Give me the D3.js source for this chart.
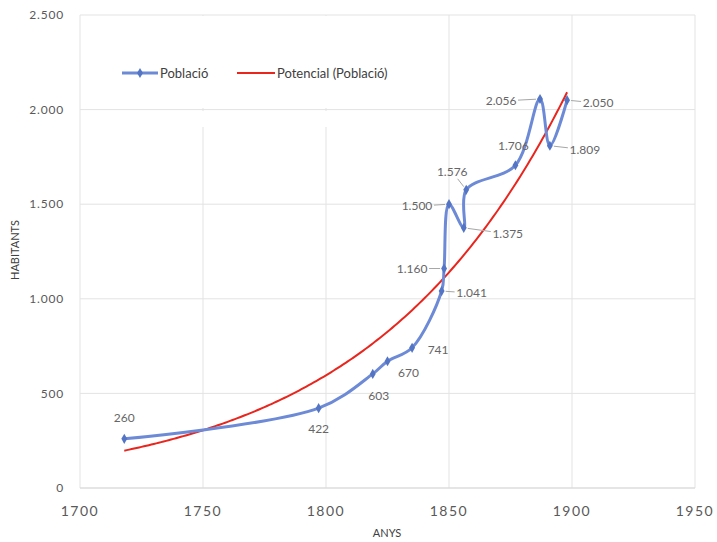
<!DOCTYPE html>
<html>
<head>
<meta charset="utf-8">
<script src="https://cdn.jsdelivr.net/npm/d3@7"></script>
<style>
  body { margin: 0; background: #fff; }
  text { font-family: Lato, "Open Sans", sans-serif; }
</style>
</head>
<body>
<div id="chart"></div>
<script>

// data
const anys = [1718, 1797, 1819, 1825, 1835, 1847, 1848, 1850, 1856, 1857, 1877, 1887, 1891, 1898];
const poblacio = [260, 422, 603, 670, 741, 1041, 1160, 1500, 1375, 1576, 1706, 2056, 1809, 2050];
const xTicks = [1700, 1750, 1800, 1850, 1900, 1950];
const yTicks = [0, 500, 1000, 1500, 2000, 2500];

// label placement relative to each point (layout only)
const labelOffsets = [
    [0, -21], [0, 21], [6, 22], [21, 12], [26, 2], [30, 2], [-32, 0],
    [-32, 2], [44, 6], [-14, -18], [-2, -19], [-39, 2], [35, 4], [31, 3]
];
const hasLeader = [false, false, false, false, false, true, true, true, true, true, false, true, true, true];

function createSVG(containerId, width, height) {
    try {
        let svg = d3.select(containerId)
            .append('svg')
            .attr('width', width)
            .attr('height', height);
        return svg;
    } catch (error) {
        console.log('Function: createSVG. Error: ' + error);
        return null;
    }
}

function powerFit(xs, ys) {
    // least squares on ln-ln, same as the spreadsheet "Potencial" trendline
    let lx = xs.map(Math.log), ly = ys.map(Math.log);
    let mx = d3.mean(lx), my = d3.mean(ly);
    let sxy = d3.sum(lx, (v, i) => (v - mx) * (ly[i] - my));
    let sxx = d3.sum(lx, v => (v - mx) * (v - mx));
    let b = sxy / sxx;
    let a = Math.exp(my - b * mx);
    return x => a * Math.pow(x, b);
}

// leader from near the point to the edge of the label box
function leader(px, py, o) {
    let hw = 17, hh = 7;
    let len = Math.hypot(o[0], o[1]);
    let ux = -o[0] / len, uy = -o[1] / len;
    let t = Math.min(Math.abs(ux) > 0 ? hw / Math.abs(ux) : 1e9, Math.abs(uy) > 0 ? hh / Math.abs(uy) : 1e9);
    return {
        x1: px - ux * 4, y1: py - uy * 4,
        x2: px + o[0] + ux * t, y2: py + o[1] + uy * t
    };
}

const svg = createSVG('#chart', 717, 542);
const fmt = v => d3.format(',')(v).replace(/,/g, '.');

const x = d3.scaleLinear().domain([1700, 1950]).range([80, 695]);
const y = d3.scaleLinear().domain([0, 2500]).range([488, 15]);

// gridlines
svg.append('g')
    .selectAll('line')
    .data(yTicks).enter()
    .append('line')
    .attr('x1', x(1700)).attr('x2', x(1950))
    .attr('y1', d => y(d)).attr('y2', d => y(d))
    .attr('stroke', '#e3e3e3').attr('stroke-width', 1);

svg.append('g')
    .selectAll('line')
    .data(xTicks).enter()
    .append('line')
    .attr('x1', d => x(d)).attr('x2', d => x(d))
    .attr('y1', y(0)).attr('y2', y(2500))
    .attr('stroke', '#e3e3e3').attr('stroke-width', 1);

// legend box hides the grid behind it
svg.append('rect')
    .attr('x', x(1700) + 1).attr('y', y(2500) + 1)
    .attr('width', 360).attr('height', 92)
    .attr('fill', '#fff');
svg.append('rect')
    .attr('x', x(1700) + 1).attr('y', y(2500) + 96)
    .attr('width', 360).attr('height', 16)
    .attr('fill', '#fff');

// axis line
svg.append('line')
    .attr('x1', x(1700)).attr('x2', x(1950))
    .attr('y1', y(0)).attr('y2', y(0))
    .attr('stroke', '#d9d9d9');

// tick labels
svg.append('g')
    .selectAll('text')
    .data(yTicks).enter()
    .append('text')
    .attr('x', 64)
    .attr('y', d => y(d))
    .attr('dy', '0.35em')
    .attr('text-anchor', 'end')
    .attr('font-size', 12)
    .attr('letter-spacing', 0.8)
    .attr('fill', '#595959')
    .text(d => fmt(d));

svg.append('g')
    .selectAll('text')
    .data(xTicks).enter()
    .append('text')
    .attr('x', d => x(d))
    .attr('y', 511)
    .attr('dy', '0.35em')
    .attr('text-anchor', 'middle')
    .attr('font-size', 14)
    .attr('letter-spacing', 1.5)
    .attr('fill', '#595959')
    .text(d => d);

// axis titles
svg.append('text')
    .attr('x', 387).attr('y', 533)
    .attr('dy', '0.35em')
    .attr('text-anchor', 'middle')
    .attr('font-size', 11)
    .attr('fill', '#404040')
    .text('ANYS');

svg.append('text')
    .attr('transform', 'translate(15,250) rotate(-90)')
    .attr('dy', '0.35em')
    .attr('text-anchor', 'middle')
    .attr('font-size', 11)
    .attr('fill', '#404040')
    .text('HABITANTS');

// trendline
const trend = powerFit(anys, poblacio);
const trendPts = d3.range(anys[0], anys[anys.length - 1] + 0.01, 1).map(t => [t, trend(t)]);
svg.append('path')
    .attr('d', d3.line().x(d => x(d[0])).y(d => y(d[1]))(trendPts))
    .attr('fill', 'none')
    .attr('stroke', '#e8261e')
    .attr('stroke-width', 2);

// population series
const pts = anys.map((a, i) => [a, poblacio[i]]);
svg.append('path')
    .attr('d', d3.line().curve(d3.curveCatmullRom.alpha(0.5)).x(d => x(d[0])).y(d => y(d[1]))(pts))
    .attr('fill', 'none')
    .attr('stroke', '#6d8ad6')
    .attr('stroke-width', 3);

svg.append('g')
    .selectAll('path')
    .data(pts).enter()
    .append('path')
    .attr('transform', d => 'translate(' + x(d[0]) + ',' + y(d[1]) + ')')
    .attr('d', d3.symbol().type(d3.symbolDiamond).size(30))
    .attr('fill', '#5474c4');

// leader lines
const leaders = pts.map((d, i) => leader(x(d[0]), y(d[1]), labelOffsets[i])).filter((d, i) => hasLeader[i]);
svg.append('g')
    .selectAll('line')
    .data(leaders).enter()
    .append('line')
    .attr('x1', d => d.x1).attr('y1', d => d.y1)
    .attr('x2', d => d.x2).attr('y2', d => d.y2)
    .attr('stroke', '#a6a6a6')
    .attr('stroke-width', 1);

// data labels
svg.append('g')
    .selectAll('text')
    .data(pts).enter()
    .append('text')
    .attr('x', (d, i) => x(d[0]) + labelOffsets[i][0])
    .attr('y', (d, i) => y(d[1]) + labelOffsets[i][1])
    .attr('dy', '0.35em')
    .attr('text-anchor', 'middle')
    .attr('font-size', 12)
    .attr('fill', '#666')
    .text(d => fmt(d[1]));

// legend
const legend = svg.append('g').attr('transform', 'translate(0,73)');
legend.append('line')
    .attr('x1', 122).attr('x2', 158)
    .attr('stroke', '#6d8ad6').attr('stroke-width', 3);
legend.append('path')
    .attr('transform', 'translate(140,0)')
    .attr('d', d3.symbol().type(d3.symbolDiamond).size(30))
    .attr('fill', '#5474c4');
legend.append('text')
    .attr('x', 160).attr('dy', '0.35em')
    .attr('font-size', 13).attr('fill', '#404040')
    .text('Població');
legend.append('line')
    .attr('x1', 237).attr('x2', 275)
    .attr('stroke', '#e8261e').attr('stroke-width', 2);
legend.append('text')
    .attr('x', 277).attr('dy', '0.35em')
    .attr('font-size', 13).attr('fill', '#404040')
    .text('Potencial (Població)');

</script>
</body>
</html>
